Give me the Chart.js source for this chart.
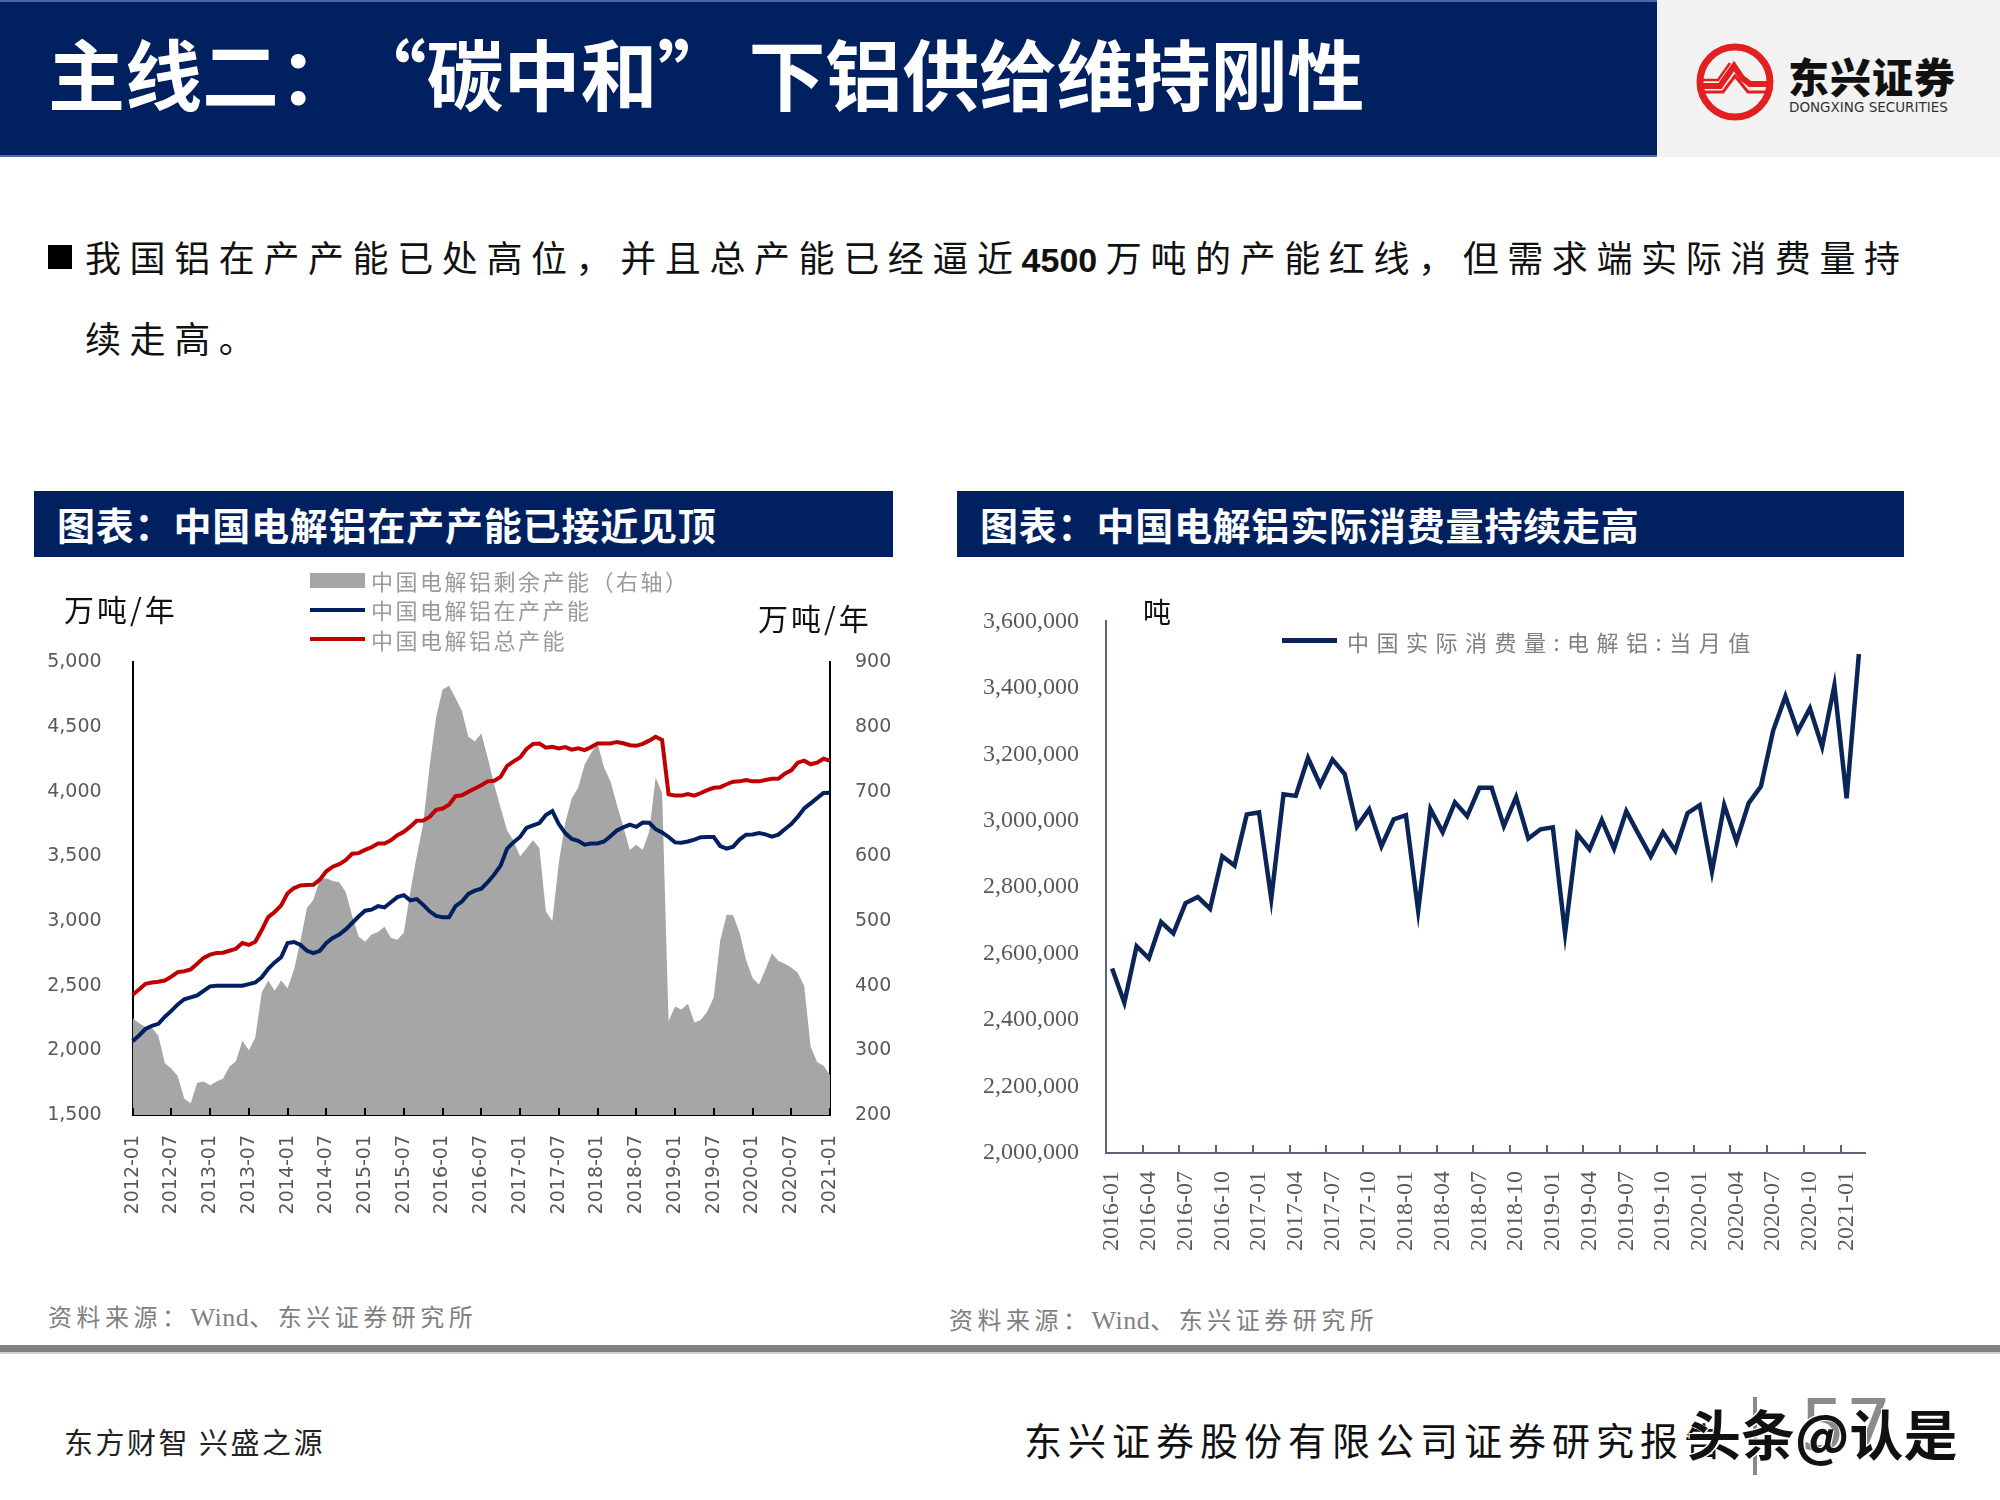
<!DOCTYPE html>
<html lang="zh-CN">
<head>
<meta charset="utf-8">
<script src="https://cdn.jsdelivr.net/npm/chart.js@4.4.1/dist/chart.umd.min.js"></script>
<style>
  html, body { margin:0; padding:0; background:#fff; }
  body { width:2000px; height:1500px; position:relative; overflow:hidden; font-family:"Noto Sans CJK SC","Noto Sans",sans-serif; }
  .abs { position:absolute; white-space:nowrap; }
  canvas { position:absolute; }
</style>
</head>
<body>
<script>
// ---------------- DATA ----------------
const capLabels = [
 '2012-01','2012-02','2012-03','2012-04','2012-05','2012-06','2012-07','2012-08','2012-09','2012-10','2012-11','2012-12',
 '2013-01','2013-02','2013-03','2013-04','2013-05','2013-06','2013-07','2013-08','2013-09','2013-10','2013-11','2013-12',
 '2014-01','2014-02','2014-03','2014-04','2014-05','2014-06','2014-07','2014-08','2014-09','2014-10','2014-11','2014-12',
 '2015-01','2015-02','2015-03','2015-04','2015-05','2015-06','2015-07','2015-08','2015-09','2015-10','2015-11','2015-12',
 '2016-01','2016-02','2016-03','2016-04','2016-05','2016-06','2016-07','2016-08','2016-09','2016-10','2016-11','2016-12',
 '2017-01','2017-02','2017-03','2017-04','2017-05','2017-06','2017-07','2017-08','2017-09','2017-10','2017-11','2017-12',
 '2018-01','2018-02','2018-03','2018-04','2018-05','2018-06','2018-07','2018-08','2018-09','2018-10','2018-11','2018-12',
 '2019-01','2019-02','2019-03','2019-04','2019-05','2019-06','2019-07','2019-08','2019-09','2019-10','2019-11','2019-12',
 '2020-01','2020-02','2020-03','2020-04','2020-05','2020-06','2020-07','2020-08','2020-09','2020-10','2020-11','2020-12',
 '2021-01'
];
// 中国电解铝总产能 (万吨/年, left axis)
const totalCapacity = [
 2430,2470,2515,2525,2530,2540,2570,2605,2612,2625,2670,2715,
 2740,2752,2755,2770,2785,2830,2815,2840,2930,3030,3070,3120,
 3215,3255,3275,3278,3280,3320,3385,3420,3440,3470,3520,3525,
 3550,3570,3600,3600,3625,3664,3690,3730,3775,3777,3805,3860,
 3870,3900,3965,3972,4000,4025,4050,4080,4085,4115,4200,4235,
 4265,4330,4370,4372,4340,4348,4335,4345,4325,4335,4322,4345,
 4372,4373,4373,4385,4375,4360,4355,4370,4395,4425,4400,3980,
 3970,3970,3982,3970,3990,4012,4030,4035,4058,4078,4080,4090,
 4080,4080,4090,4100,4100,4140,4165,4225,4240,4212,4225,4255,
 4240
];
// 中国电解铝在产产能 (万吨/年, left axis)
const runningCapacity = [
 2070,2115,2165,2190,2205,2260,2305,2355,2395,2410,2425,2460,
 2495,2500,2500,2500,2500,2500,2512,2525,2565,2630,2680,2720,
 2830,2838,2815,2770,2752,2770,2830,2870,2895,2935,2985,3035,
 3080,3088,3115,3105,3145,3185,3200,3160,3170,3125,3075,3040,
 3030,3030,3115,3150,3210,3235,3250,3300,3360,3430,3560,3610,
 3650,3720,3740,3758,3820,3850,3750,3680,3635,3620,3590,3600,
 3600,3615,3655,3700,3725,3745,3728,3762,3760,3710,3685,3650,
 3608,3605,3615,3630,3648,3650,3650,3580,3560,3575,3630,3668,
 3670,3680,3670,3652,3668,3710,3750,3805,3870,3910,3950,3990,
 3992
];
// 中国电解铝剩余产能 (万吨/年, right axis)
const spareCapacity = [
 350,342,336,335,322,280,272,260,225,218,250,252,
 246,252,256,275,283,315,300,320,390,408,392,408,
 396,425,470,520,533,565,566,562,560,545,508,476,
 468,479,483,491,474,471,482,545,600,650,740,815,
 858,864,845,825,785,778,790,752,711,675,640,624,
 600,612,625,613,515,500,590,652,690,706,742,760,
 775,738,716,680,646,610,618,610,638,722,698,345,
 368,363,372,343,347,360,382,470,510,509,482,440,
 412,402,425,450,438,434,428,420,400,306,282,276,
 262
];
const leftTicks = { min:1500, max:5000, step:500 };
const rightTicks = { min:200, max:900, step:100 };

const consLabels = [
 '2016-01','2016-02','2016-03','2016-04','2016-05','2016-06','2016-07','2016-08','2016-09','2016-10','2016-11','2016-12',
 '2017-01','2017-02','2017-03','2017-04','2017-05','2017-06','2017-07','2017-08','2017-09','2017-10','2017-11','2017-12',
 '2018-01','2018-02','2018-03','2018-04','2018-05','2018-06','2018-07','2018-08','2018-09','2018-10','2018-11','2018-12',
 '2019-01','2019-02','2019-03','2019-04','2019-05','2019-06','2019-07','2019-08','2019-09','2019-10','2019-11','2019-12',
 '2020-01','2020-02','2020-03','2020-04','2020-05','2020-06','2020-07','2020-08','2020-09','2020-10','2020-11','2020-12',
 '2021-01','2021-02'
];
// 中国实际消费量:电解铝:当月值 (吨)
const consumption = [
 2555600,2452500,2622400,2586000,2695200,2661200,2752200,2770400,2735200,2893000,2865000,3019100,
 3025100,2765500,3079700,3074900,3188900,3107600,3184100,3140400,2982700,3034900,2923300,3004500,
 3016700,2729100,3034900,2965700,3055500,3014200,3099200,3099200,2983900,3071300,2946300,2974200,
 2980300,2661200,2959600,2913500,3002100,2916000,3028800,2959600,2892900,2965700,2909900,3022700,
 3047000,2846800,3047000,2937800,3053000,3104000,3271400,3374600,3269000,3338200,3222900,3407300,
 3067600,3502000
];
const consTicks = { min:2000000, max:3600000, step:200000 };
</script>

<!-- Header -->
<div class="abs" style="left:0;top:0;width:1657px;height:157px;background:#002060;border-top:2px solid #4a6aa8;border-bottom:2px solid #4a6aa8;box-sizing:border-box;"></div>
<div class="abs" style="left:48px;top:22px;height:100px;line-height:100px;font-size:77px;font-weight:700;color:#fff;">主线二：<span style="margin-left:32px;">“</span>碳中和”<span style="margin-left:14px;">下铝供给维持刚性</span></div>
<div class="abs" style="left:1657px;top:0;width:343px;height:157px;background:#f2f2f2;"></div>
<svg class="abs" style="left:1690px;top:36px;" width="92" height="92" viewBox="0 0 92 92">
  <circle cx="45" cy="46" r="35" fill="none" stroke="#e41f1f" stroke-width="7"/>
  <path d="M12 50 L30 50 L44 30 L52 42 L60 48 L80 48" fill="none" stroke="#e41f1f" stroke-width="6" stroke-linejoin="miter"/>
  <path d="M12 44 L28 44 L40 27" fill="none" stroke="#e41f1f" stroke-width="2.5"/>
  <path d="M12 56 L33 56 L45 40 L58 56 L80 56" fill="none" stroke="#e41f1f" stroke-width="3"/>
</svg>
<div class="abs" style="left:1788px;top:52px;height:46px;line-height:46px;font-size:41px;font-weight:900;color:#111;letter-spacing:1px;">东兴证券</div>
<div class="abs" style="left:1789px;top:98px;height:18px;line-height:18px;font-size:13.5px;color:#333;font-family:'DejaVu Sans';letter-spacing:0px;">DONGXING SECURITIES</div>

<!-- Bullet text -->
<div class="abs" style="left:48px;top:245px;width:24px;height:24px;background:#000;"></div>
<div class="abs" style="left:85px;top:232px;height:48px;line-height:48px;font-size:36px;letter-spacing:8.6px;color:#111;">我国铝在产产能已处高位，并且总产能已经逼近<b style="letter-spacing:0;font-size:34px;font-family:'Liberation Sans';margin-right:8.6px;">4500</b>万吨的产能红线，但需求端实际消费量持</div>
<div class="abs" style="left:85px;top:313px;height:48px;line-height:48px;font-size:36px;letter-spacing:8.6px;color:#111;">续走高。</div>

<!-- Chart title bars -->
<div class="abs" style="left:34px;top:491px;width:859px;height:66px;background:#002060;"></div>
<div class="abs" style="left:57px;top:500px;height:48px;line-height:48px;font-size:38px;font-weight:700;color:#fff;letter-spacing:0.8px;">图表：中国电解铝在产产能已接近见顶</div>
<div class="abs" style="left:957px;top:491px;width:947px;height:66px;background:#002060;"></div>
<div class="abs" style="left:980px;top:500px;height:48px;line-height:48px;font-size:38px;font-weight:700;color:#fff;letter-spacing:0.8px;">图表：中国电解铝实际消费量持续走高</div>

<!-- Left chart -->
<canvas id="capChart" width="880" height="660" style="left:20px;top:620px;"></canvas>
<div class="abs" style="left:64px;top:589px;height:38px;line-height:38px;font-size:30px;color:#111;letter-spacing:3px;">万吨/年</div>
<div class="abs" style="left:758px;top:598px;height:38px;line-height:38px;font-size:30px;color:#111;letter-spacing:3px;">万吨/年</div>
<div class="abs" style="left:310px;top:573px;width:55px;height:15px;background:#a6a6a6;"></div>
<div class="abs" style="left:371px;top:566px;height:28px;line-height:28px;font-size:22px;color:#9a9a9a;letter-spacing:2.5px;">中国电解铝剩余产能（右轴）</div>
<div class="abs" style="left:310px;top:608px;width:55px;height:4px;background:#002060;"></div>
<div class="abs" style="left:371px;top:595px;height:28px;line-height:28px;font-size:22px;color:#9a9a9a;letter-spacing:2.5px;">中国电解铝在产产能</div>
<div class="abs" style="left:310px;top:637px;width:55px;height:4px;background:#c00000;"></div>
<div class="abs" style="left:371px;top:625px;height:28px;line-height:28px;font-size:22px;color:#9a9a9a;letter-spacing:2.5px;">中国电解铝总产能</div>

<!-- Right chart -->
<canvas id="consChart" width="980" height="720" style="left:940px;top:580px;"></canvas>
<div class="abs" style="left:1143px;top:593px;height:36px;line-height:36px;font-size:28px;color:#111;">吨</div>
<div class="abs" style="left:1282px;top:638px;width:55px;height:5px;background:#0b2559;"></div>
<div class="abs" style="left:1347px;top:626px;height:30px;line-height:30px;font-size:22px;color:#7f7f7f;letter-spacing:7.5px;">中国实际消费量:电解铝:当月值</div>

<!-- Sources -->
<div class="abs" style="left:48px;top:1300px;height:32px;line-height:32px;font-size:24px;color:#7f7f7f;letter-spacing:4.5px;">资料来源：<span style="font-family:'Liberation Serif';font-size:26px;letter-spacing:0.5px;">Wind</span>、东兴证券研究所</div>
<div class="abs" style="left:949px;top:1303px;height:32px;line-height:32px;font-size:24px;color:#7f7f7f;letter-spacing:4.5px;">资料来源：<span style="font-family:'Liberation Serif';font-size:26px;letter-spacing:0.5px;">Wind</span>、东兴证券研究所</div>

<!-- Footer -->
<div class="abs" style="left:0;top:1345px;width:2000px;height:7px;background:#808080;"></div>
<div class="abs" style="left:0;top:1352px;width:2000px;height:2px;background:#d0d0d0;"></div>
<div class="abs" style="left:64px;top:1422px;height:38px;line-height:38px;font-size:29px;color:#222;letter-spacing:2.5px;">东方财智 兴盛之源</div>
<div class="abs" style="left:1024px;top:1415px;height:48px;line-height:48px;font-size:38px;color:#111;letter-spacing:6px;">东兴证券股份有限公司证券研究报告</div>
<div class="abs" style="left:1753px;top:1397px;width:4px;height:78px;background:#8a8a8a;"></div>
<div class="abs" style="left:1800px;top:1385px;height:80px;line-height:80px;font-size:72px;color:#8a8a8a;font-family:'DejaVu Sans';">57</div>
<div class="abs" style="left:1687px;top:1402px;height:62px;line-height:62px;font-size:54px;font-weight:700;color:#111;text-shadow:1px 1px 0 #fff,-1px -1px 0 #fff;">头条@认是</div>

<script>
const innerTicks = {
  id: 'innerTicks',
  afterDatasetsDraw(chart, args, opts) {
    const ctx = chart.ctx;
    ctx.save();
    (opts.items || []).forEach(it => {
      const s = chart.scales[it.scale];
      ctx.strokeStyle = it.color;
      ctx.lineWidth = it.width;
      ctx.beginPath();
      const n = s.ticks.length;
      const step = n > 1 ? s.getPixelForTick(1) - s.getPixelForTick(0) : 0;
      s.ticks.forEach((t, i) => {
        if (it.every && i % it.every !== 0) return;
        let p = s.getPixelForTick(i);
        if (it.between) p -= step / 2;
        p = Math.round(p);
        if (s.isHorizontal()) {
          ctx.moveTo(p, s.top); ctx.lineTo(p, s.top - it.len);
        } else if (s.position === 'left') {
          ctx.moveTo(s.right, p); ctx.lineTo(s.right + it.len, p);
        } else {
          ctx.moveTo(s.left, p); ctx.lineTo(s.left - it.len, p);
        }
      });
      ctx.stroke();
    });
    ctx.restore();
  }
};

const fmt = v => Number(v).toLocaleString('en-US');

new Chart(document.getElementById('capChart'), {
  type: 'line',
  data: {
    labels: capLabels,
    datasets: [
      { label:'中国电解铝剩余产能（右轴）', data: spareCapacity, yAxisID:'y2', fill:'start',
        backgroundColor:'#a6a6a6', borderWidth:0, borderColor:'rgba(0,0,0,0)', pointRadius:0, tension:0, order:3 },
      { label:'中国电解铝在产产能', data: runningCapacity, yAxisID:'y', fill:false,
        borderColor:'#002060', borderWidth:4, pointRadius:0, tension:0, order:2 },
      { label:'中国电解铝总产能', data: totalCapacity, yAxisID:'y', fill:false,
        borderColor:'#c00000', borderWidth:4, pointRadius:0, tension:0, order:1 }
    ]
  },
  options: {
    responsive:false, animation:false,
    layout:{ padding:{ top:39.5, left:0, right:0, bottom:0 } },
    plugins:{
      legend:{ display:false }, tooltip:{ enabled:false },
      innerTicks:{ items:[
        { scale:'x', every:6, len:7, color:'#000', width:2 },
        { scale:'y', len:6, color:'#000', width:2 },
        { scale:'y2', len:6, color:'#000', width:2 }
      ]}
    },
    scales:{
      x:{
        type:'category', offset:false,
        grid:{ display:false, drawTicks:false },
        border:{ display:true, color:'#000', width:2 },
        ticks:{ autoSkip:false, maxRotation:90, minRotation:90, padding:20,
          color:'#595959', font:{ family:'DejaVu Sans', size:19 },
          callback:(v,i) => i % 6 === 0 ? capLabels[i] : '' },
        afterFit:s => { s.height = 165; }
      },
      y:{
        position:'left', min:leftTicks.min, max:leftTicks.max,
        grid:{ display:false, drawTicks:false },
        border:{ display:true, color:'#000', width:2 },
        ticks:{ stepSize:leftTicks.step, padding:31, color:'#595959',
          font:{ family:'DejaVu Sans', size:19 }, callback:fmt },
        afterFit:s => { s.width = 112.6; }
      },
      y2:{
        position:'right', min:rightTicks.min, max:rightTicks.max,
        grid:{ display:false, drawTicks:false },
        border:{ display:true, color:'#000', width:2 },
        ticks:{ stepSize:rightTicks.step, padding:25, color:'#595959',
          font:{ family:'DejaVu Sans', size:19 }, callback:fmt },
        afterFit:s => { s.width = 70; }
      }
    }
  },
  plugins:[innerTicks]
});

new Chart(document.getElementById('consChart'), {
  type: 'line',
  data: {
    labels: consLabels,
    datasets: [
      { label:'中国实际消费量:电解铝:当月值', data: consumption, fill:false,
        borderColor:'#0b2559', borderWidth:4.5, pointRadius:0, tension:0 }
    ]
  },
  options: {
    responsive:false, animation:false,
    layout:{ padding:{ top:32, left:0, right:55, bottom:0 } },
    plugins:{
      legend:{ display:false }, tooltip:{ enabled:false },
      innerTicks:{ items:[
        { scale:'x', every:3, between:true, len:8, color:'#5b6577', width:2 },
        { scale:'y', len:8, color:'#5b6577', width:2 }
      ]}
    },
    scales:{
      x:{
        type:'category', offset:true,
        grid:{ display:false, drawTicks:false },
        border:{ display:true, color:'#5b6577', width:2 },
        ticks:{ autoSkip:false, maxRotation:90, minRotation:90, padding:18,
          color:'#595959', font:{ family:'Liberation Serif', size:24 },
          callback:(v,i) => i % 3 === 0 ? consLabels[i] : '' },
        afterFit:s => { s.height = 147; }
      },
      y:{
        position:'left', min:consTicks.min, max:consTicks.max,
        grid:{ display:false, drawTicks:false },
        border:{ display:true, color:'#5b6577', width:2 },
        ticks:{ stepSize:consTicks.step, padding:27, color:'#595959',
          font:{ family:'Liberation Serif', size:24 }, callback:fmt },
        afterFit:s => { s.width = 166; }
      }
    }
  },
  plugins:[innerTicks]
});
</script>
</body>
</html>
